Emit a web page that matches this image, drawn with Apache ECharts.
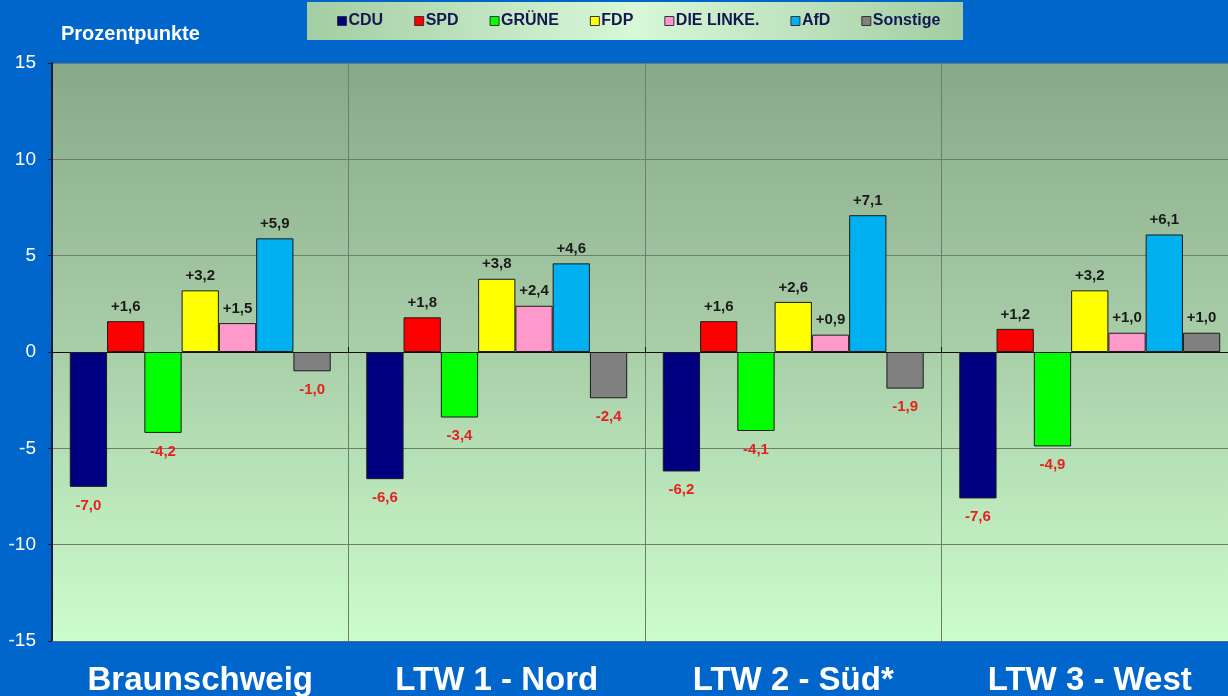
<!DOCTYPE html>
<html>
<head>
<meta charset="utf-8">
<script src="https://cdn.jsdelivr.net/npm/echarts@6/dist/echarts.min.js"></script>
<style>
  html, body { margin: 0; padding: 0; background: #0066cc; }
  #main { width: 1228px; height: 696px; }
</style>
</head>
<body>
<div id="main"></div>
<script>
// Wahlkreise und Parteien
var regions = ['Braunschweig', 'LTW 1 - Nord', 'LTW 2 - Süd*', 'LTW 3 - West'];
var parties = ['CDU', 'SPD', 'GRÜNE', 'FDP', 'DIE LINKE.', 'AfD', 'Sonstige'];
var partyColors = ['#000080', '#ff0000', '#00ff00', '#ffff00', '#ff99cc', '#00b0f0', '#808080'];

// Gewinne und Verluste in Prozentpunkten, je Partei über die Wahlkreise
var cdu      = [-7.0, -6.6, -6.2, -7.6];
var spd      = [1.6, 1.8, 1.6, 1.2];
var gruene   = [-4.2, -3.4, -4.1, -4.9];
var fdp      = [3.2, 3.8, 2.6, 3.2];
var linke    = [1.5, 2.4, 0.9, 1.0];
var afd      = [5.9, 4.6, 7.1, 6.1];
var sonstige = [-1.0, -2.4, -1.9, 1.0];
var values = [cdu, spd, gruene, fdp, linke, afd, sonstige];

var yTicks = [-15, -10, -5, 0, 5, 10, 15];

var myChart = echarts.init(document.getElementById('main'));

function fmt(v) {
    var s = Math.abs(v).toFixed(1).replace('.', ',');
    return (v < 0 ? '-' : '+') + s;
}

var series = parties.map(function (name, i) {
    return {
        name: name,
        type: 'bar',
        xAxisIndex: 0,
        barGap: '0%',
        barCategoryGap: '12%',
        itemStyle: { color: partyColors[i], borderColor: '#1a1a1a', borderWidth: 1 },
        data: values[i].map(function (v) {
            return {
                value: v,
                label: {
                    show: true,
                    position: v < 0 ? 'bottom' : 'top',
                    distance: v < 0 ? 11 : 7,
                    color: v < 0 ? '#e52222' : '#1a1a1a',
                    fontFamily: 'Liberation Sans, Arial, sans-serif',
                    fontWeight: 'bold',
                    fontSize: 15,
                    formatter: function (p) { return fmt(p.value); }
                }
            };
        })
    };
});

var option = {
    backgroundColor: '#0066cc',
    animation: false,
    textStyle: { fontFamily: 'Liberation Sans, Arial, sans-serif' },
    title: {
        text: 'Prozentpunkte',
        left: 56,
        top: 19,
        textStyle: { color: '#ffffff', fontSize: 20, fontWeight: 'bold' }
    },
    // Hintergrund der Legende
    graphic: [{
        type: 'rect',
        left: 307,
        top: 2,
        shape: { width: 656, height: 38 },
        style: {
            fill: new echarts.graphic.LinearGradient(0, 0, 1, 0, [
                { offset: 0, color: '#a3cda3' },
                { offset: 0.5, color: '#d8f8d8' },
                { offset: 1, color: '#a3cda3' }
            ])
        },
        z: -1
    }],
    legend: {
        data: parties,
        top: 13,
        left: 337,
        padding: 0,
        itemGap: 31,
        itemWidth: 9,
        itemHeight: 9,
        icon: 'rect',
        itemStyle: { borderColor: '#333333', borderWidth: 1 },
        textStyle: {
            color: '#161650',
            fontSize: 16,
            fontWeight: 'bold',
            padding: [0, 0, 0, -3]
        }
    },
    grid: {
        left: 52,
        top: 63,
        width: 1186,
        bottom: 55,
        outerBoundsMode: 'none',
        show: true,
        borderWidth: 0,
        backgroundColor: new echarts.graphic.LinearGradient(0, 0, 0, 1, [
            { offset: 0, color: '#88a988' },
            { offset: 0.5, color: '#a9cfa9' },
            { offset: 1, color: '#ccfdcc' }
        ])
    },
    xAxis: [
        {
            type: 'category',
            data: regions,
            position: 'bottom',
            axisLine: { onZero: false, lineStyle: { color: '#4a6a8a', width: 1 } },
            axisTick: { show: false },
            splitLine: { show: true, lineStyle: { color: '#6e7e6e', width: 1 } },
            axisLabel: {
                color: '#ffffff',
                fontSize: 33,
                fontWeight: 'bold',
                margin: 23
            }
        },
        {
            type: 'category',
            data: regions,
            position: 'top',
            axisLine: { onZero: true, lineStyle: { color: '#111111', width: 1 } },
            axisTick: { show: true, inside: false, length: 5, lineStyle: { color: '#111111' } },
            axisLabel: { show: false },
            splitLine: { show: false }
        }
    ],
    yAxis: {
        type: 'value',
        min: yTicks[0],
        max: yTicks[yTicks.length - 1],
        interval: 5,
        axisLine: { show: true, lineStyle: { color: '#1a1a40', width: 2 } },
        axisTick: { show: true, length: 4, lineStyle: { color: '#1a1a40' } },
        splitLine: { show: true, lineStyle: { color: '#6e7e6e', width: 1 } },
        axisLabel: {
            color: '#ffffff',
            fontSize: 19,
            margin: 16
        }
    },
    series: series
};

myChart.setOption(option);
</script>
</body>
</html>
